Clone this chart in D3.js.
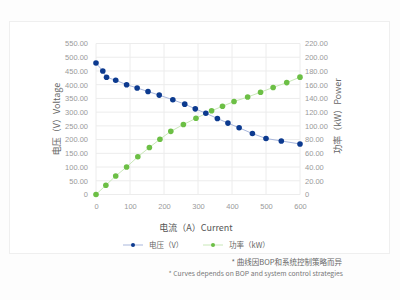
<!DOCTYPE html>
<html>
<head>
<meta charset="utf-8">
<script src="https://cdn.jsdelivr.net/npm/d3@7"></script>
<style>
  body { margin: 0; background: #fdfdfd; }
  svg { display: block; font-family: "Noto Sans CJK SC", "Noto Sans", sans-serif; }
</style>
</head>
<body>
<div id="chart"></div>
<script>
const FRAME_WIDTH = 400;
const FRAME_HEIGHT = 300;
const MARGINS = {left: 96, right: 100, top: 43.5, bottom: 105.5};
const VIS_WIDTH = FRAME_WIDTH - MARGINS.left - MARGINS.right;
const VIS_HEIGHT = FRAME_HEIGHT - MARGINS.top - MARGINS.bottom;

// voltage curve (current A, voltage V)
const VOLT_CURRENT = [0, 20, 31, 58, 90, 121, 153, 186, 226, 261, 292, 323, 357, 388, 421, 460, 500, 545, 600];
const VOLT_VALUES = [479, 450, 427, 416, 400, 388, 375, 362, 345, 329, 312, 296, 277, 260, 243, 222, 204, 195, 184];

// power curve (current A, power kW)
const POWER_CURRENT = [0, 29, 58, 90, 123, 157, 188, 220, 257, 294, 340, 372, 406, 446, 484, 521, 561, 600];
const POWER_VALUES = [0, 13.5, 27, 40, 55, 68.5, 80.5, 92, 102, 111, 122, 128.5, 135.5, 142, 149, 156, 163, 171];

const X_TICKS = [0, 100, 200, 300, 400, 500, 600];
const VOLT_TICKS = [0, 50, 100, 150, 200, 250, 300, 350, 400, 450, 500, 550];
const POWER_TICKS = [0, 20, 40, 60, 80, 100, 120, 140, 160, 180, 200, 220];

const BLUE = "#0c3a8f";
const BLUE_LINE = "#a9b7dc";
const GREEN = "#6cbf45";
const GREEN_LINE = "#c9e8b8";
const TICK_COLOR = "#9a9a9a";

const svg = d3.select("#chart")
  .append("svg")
    .attr("width", FRAME_WIDTH)
    .attr("height", FRAME_HEIGHT);

// card behind the chart
svg.append("rect")
  .attr("x", 9.5).attr("y", 21.5)
  .attr("width", 380).attr("height", 232)
  .attr("fill", "#ffffff")
  .attr("stroke", "#efefef");

const x = d3.scaleLinear().domain([0, 600]).range([MARGINS.left, MARGINS.left + VIS_WIDTH]);
const yV = d3.scaleLinear().domain([0, 550]).range([MARGINS.top + VIS_HEIGHT, MARGINS.top]);
const yP = d3.scaleLinear().domain([0, 220]).range([MARGINS.top + VIS_HEIGHT, MARGINS.top]);

// grid
svg.append("g")
  .selectAll("line")
  .data(VOLT_TICKS)
  .enter()
  .append("line")
    .attr("x1", MARGINS.left).attr("x2", MARGINS.left + VIS_WIDTH)
    .attr("y1", d => yV(d)).attr("y2", d => yV(d))
    .attr("stroke", "#ececec");

svg.append("g")
  .selectAll("line")
  .data(X_TICKS)
  .enter()
  .append("line")
    .attr("x1", d => x(d)).attr("x2", d => x(d))
    .attr("y1", MARGINS.top).attr("y2", MARGINS.top + VIS_HEIGHT)
    .attr("stroke", "#ececec");

// axes
function styleAxis(g) {
  g.select(".domain").remove();
  g.selectAll(".tick line").remove();
  g.selectAll("text").attr("fill", TICK_COLOR).attr("font-size", "7.5px")
    .attr("font-family", "Liberation Sans, Arial, sans-serif");
}

const fmt = d => d === 0 ? "0" : d3.format(".2f")(d);

svg.append("g")
  .attr("transform", "translate(" + MARGINS.left + ",0)")
  .call(d3.axisLeft(yV).tickValues(VOLT_TICKS).tickFormat(fmt).tickSize(0).tickPadding(8))
  .call(styleAxis);

svg.append("g")
  .attr("transform", "translate(" + (MARGINS.left + VIS_WIDTH) + ",0)")
  .call(d3.axisRight(yP).tickValues(POWER_TICKS).tickFormat(fmt).tickSize(0).tickPadding(5))
  .call(styleAxis);

svg.append("g")
  .attr("transform", "translate(0," + (MARGINS.top + VIS_HEIGHT) + ")")
  .call(d3.axisBottom(x).tickValues(X_TICKS).tickFormat(d3.format("d")).tickSize(0).tickPadding(9))
  .call(styleAxis);

// axis titles
svg.append("text")
  .attr("transform", "translate(60," + (MARGINS.top + VIS_HEIGHT / 2) + ") rotate(-90)")
  .attr("text-anchor", "middle")
  .attr("font-size", "9px")
  .attr("fill", "#666")
  .text("电压（V）Voltage");

svg.append("text")
  .attr("transform", "translate(341," + (MARGINS.top + VIS_HEIGHT / 2 - 3) + ") rotate(-90)")
  .attr("text-anchor", "middle")
  .attr("font-size", "9px")
  .attr("fill", "#666")
  .text("功率（kW）Power");

svg.append("text")
  .attr("x", 196).attr("y", 231)
  .attr("text-anchor", "middle")
  .attr("font-size", "9px")
  .attr("fill", "#555")
  .text("电流（A）Current");

// lines and points
const voltData = VOLT_CURRENT.map((c, i) => ({c: c, v: VOLT_VALUES[i]}));
const powerData = POWER_CURRENT.map((c, i) => ({c: c, v: POWER_VALUES[i]}));

svg.append("path")
  .datum(voltData)
  .attr("fill", "none")
  .attr("stroke", BLUE_LINE)
  .attr("stroke-width", 1)
  .attr("d", d3.line().x(d => x(d.c)).y(d => yV(d.v)));

svg.append("path")
  .datum(powerData)
  .attr("fill", "none")
  .attr("stroke", GREEN_LINE)
  .attr("stroke-width", 1)
  .attr("d", d3.line().x(d => x(d.c)).y(d => yP(d.v)));

svg.append("g")
  .selectAll("circle")
  .data(powerData)
  .enter()
  .append("circle")
    .attr("cx", d => x(d.c))
    .attr("cy", d => yP(d.v))
    .attr("r", 2.8)
    .attr("fill", GREEN);

svg.append("g")
  .selectAll("circle")
  .data(voltData)
  .enter()
  .append("circle")
    .attr("cx", d => x(d.c))
    .attr("cy", d => yV(d.v))
    .attr("r", 2.8)
    .attr("fill", BLUE);

// legend
const legend = [
  {label: "电压（V）", color: BLUE, line: BLUE_LINE, x: 123},
  {label: "功率（kW）", color: GREEN, line: GREEN_LINE, x: 203}
];
const lg = svg.append("g");
legend.forEach(l => {
  lg.append("line")
    .attr("x1", l.x).attr("x2", l.x + 20)
    .attr("y1", 245).attr("y2", 245)
    .attr("stroke", l.line).attr("stroke-width", 1);
  lg.append("circle")
    .attr("cx", l.x + 10).attr("cy", 245).attr("r", 2)
    .attr("fill", l.color);
  lg.append("text")
    .attr("x", l.x + 26).attr("y", 248)
    .attr("font-size", "7.5px")
    .attr("fill", "#666")
    .text(l.label);
});

// footnotes
svg.append("text")
  .attr("x", 342).attr("y", 265)
  .attr("text-anchor", "end")
  .attr("font-size", "7.5px")
  .attr("fill", "#666")
  .text("* 曲线因BOP和系统控制策略而异");

svg.append("text")
  .attr("x", 343).attr("y", 275.5)
  .attr("text-anchor", "end")
  .attr("font-size", "6.8px")
  .attr("fill", "#777")
  .text("* Curves depends on BOP and system control strategies");
</script>
</body>
</html>
